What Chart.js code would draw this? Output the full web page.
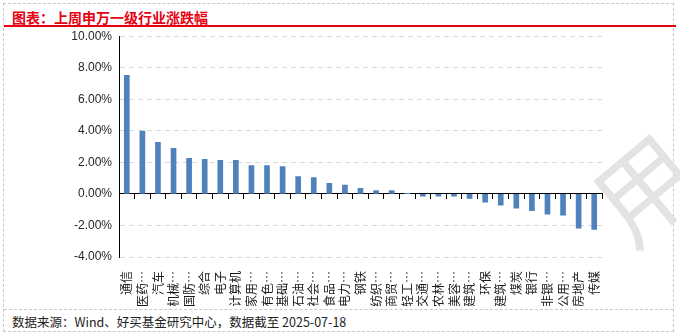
<!DOCTYPE html>
<html>
<head>
<meta charset="utf-8">
<script src="https://cdn.jsdelivr.net/npm/chart.js@4"></script>
<style>
    html, body { margin: 0; padding: 0; background: #fff; }
    #wrap { position: relative; width: 680px; height: 335px; overflow: hidden; font-family: "Noto Sans CJK SC", sans-serif; }
    #frame { position: absolute; left: 3px; top: 3px; width: 669px; height: 327px; border: 1px dashed #c8c8c8; }
    #title { position: absolute; left: 12px; top: 7px; font-size: 14px; font-weight: bold; color: #e60012; line-height: 20px; }
    #redline { position: absolute; left: 4px; top: 25px; width: 672px; height: 2px; background: #e60012; }
    #sep { position: absolute; left: 4px; top: 309px; width: 669px; border-top: 1px dashed #c8c8c8; }
    #foot { position: absolute; left: 12px; top: 313px; font-size: 12.5px; color: #222; line-height: 18px; }
    #mark { position: absolute; left: 592px; top: 135px; font-size: 100px; color: #e3e3e3; transform: rotate(-40deg); line-height: 1; }
    #box { position: absolute; left: 0; top: 22px; width: 680px; height: 284px; }
</style>
</head>
<body>
<div id="wrap">
    <div id="frame"></div>
    <div id="title">图表：上周申万一级行业涨跌幅</div>
    <div id="redline"></div>
    <div id="mark">用</div>
    <div id="box"><canvas id="chart"></canvas></div>
    <div id="sep"></div>
    <div id="foot">数据来源：Wind、好买基金研究中心，数据截至 2025-07-18</div>
</div>
<script>
// industries, as truncated on the axis
const industries = ['通信', '医药…', '汽车', '机械…', '国防…', '综合', '电子', '计算机', '家用…', '有色…',
    '基础…', '石油…', '社会…', '食品…', '电力…', '钢铁', '纺织…', '商贸…', '轻工…', '交通…',
    '农林…', '美容…', '建筑…', '环保', '建筑…', '煤炭', '银行', '非银…', '公用…', '房地产', '传媒'];

// weekly change, %
const changes = [7.52, 3.98, 3.27, 2.89, 2.25, 2.19, 2.13, 2.13, 1.80, 1.80,
    1.74, 1.10, 1.04, 0.67, 0.56, 0.35, 0.21, 0.21, 0.01, -0.15,
    -0.15, -0.15, -0.28, -0.53, -0.72, -0.91, -1.06, -1.29, -1.35, -2.17, -2.25];

const yMin = -4, yMax = 10, yStep = 2;

new Chart(document.getElementById('chart'), {
    type: 'bar',
    data: {
        labels: industries,
        datasets: [{
            data: changes,
            backgroundColor: '#4f81bd',
            barThickness: 5,
            xAxisID: 'x',
            yAxisID: 'y'
        }]
    },
    options: {
        responsive: true,
        maintainAspectRatio: false,
        animation: false,
        layout: { padding: { top: 2, right: 78, left: 0, bottom: 0 } },
        plugins: { legend: { display: false }, tooltip: { enabled: false } },
        scales: {
            x: {
                type: 'category',
                position: 'bottom',
                offset: true,
                grid: { display: false, offset: true },
                border: { display: false },
                ticks: {
                    autoSkip: false,
                    minRotation: 90,
                    maxRotation: 90,
                    padding: 6,
                    color: '#1a1a1a',
                    font: { family: '"Noto Sans CJK SC"', size: 12 }
                },
                afterFit: function (scale) { scale.height = 49; }
            },
            x0: {
                type: 'category',
                position: { y: 0 },
                offset: true,
                grid: { display: true, offset: true, drawOnChartArea: false, drawTicks: true, tickLength: 5, color: '#000', tickColor: '#000' },
                border: { display: true, color: '#000', width: 1 },
                ticks: { display: false }
            },
            y: {
                min: yMin,
                max: yMax,
                ticks: {
                    stepSize: yStep,
                    padding: 7,
                    color: '#262626',
                    font: { family: '"Liberation Sans"', size: 12 },
                    callback: function (v) { return v.toFixed(2) + '%'; }
                },
                grid: { color: '#d9d9d9', drawTicks: false },
                border: { display: true, color: '#000', width: 1, dash: [5, 4] },
                afterFit: function (scale) { scale.width = 119; }
            }
        }
    }
});
</script>
</body>
</html>
